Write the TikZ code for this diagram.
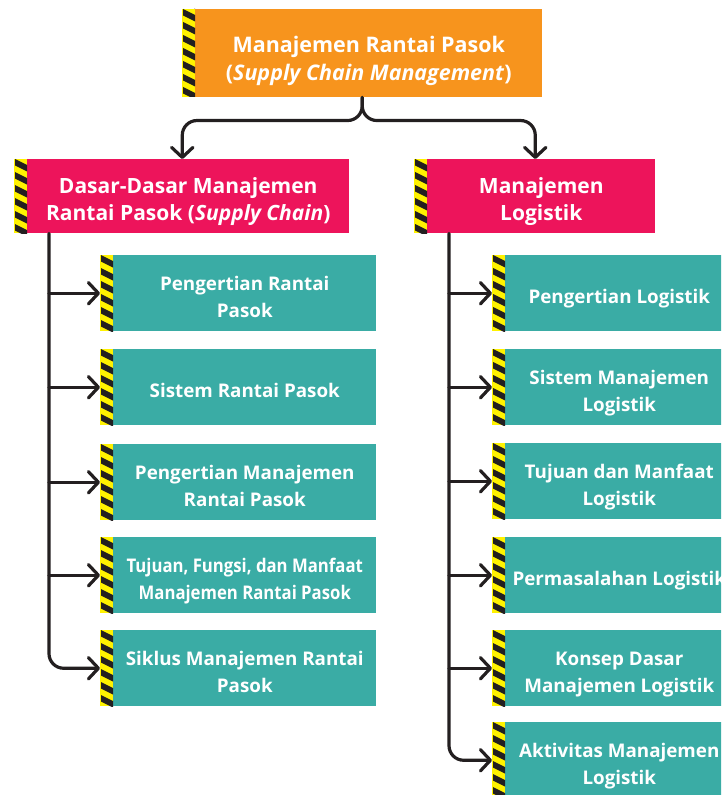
\documentclass[tikz,border=0pt]{standalone}
\usepackage{fontspec}
\setmainfont{Open Sans}
\newfontfamily\condfont[FakeStretch=0.89]{Open Sans}
\usetikzlibrary{arrows.meta}

\definecolor{hzorange}{HTML}{F7941D}
\definecolor{hzpink}{HTML}{ED145B}
\definecolor{hzteal}{HTML}{3AACA5}
\definecolor{hzyellow}{HTML}{FFF200}
\definecolor{hzblack}{HTML}{231F20}

% yellow/black band left of a box: node name, height in px
\newcommand{\hazard}[2]{%
  \begin{scope}[shift={(#1.north west)}]
    \fill[hzyellow] (-13,0) rectangle (0,#2);
    \clip (-12,0) rectangle (0,#2);
    \foreach \k in {-1,...,7}
      \fill[hzblack] (-12,{\k*13}) -- ++(12,6) -- ++(0,6.5) -- ++(-12,-6) -- cycle;
  \end{scope}}
% pushes the lines of a box a little down
\newcommand{\liftsize}{1em}
\newcommand{\lift}{\rule{0pt}{\liftsize}}

\begin{document}
\begin{tikzpicture}[x=0.75pt, y=-0.75pt,
  >={Straight Barb[length=7.5pt, width=16pt, round]},
  link/.style={draw=hzblack, line width=2.4pt, line cap=round},
  box/.style={anchor=north west, inner sep=0pt, text=white, align=center, text depth=0pt},
  topbox/.style={box, fill=hzorange, minimum width=260.25pt, minimum height=66pt,
    font=\fontsize{16.1}{21.2}\selectfont\bfseries\renewcommand{\liftsize}{1.22em}},
  headbox/.style={box, fill=hzpink, minimum height=55.5pt,
    font=\fontsize{15.75}{20}\selectfont\bfseries\renewcommand{\liftsize}{1.05em}},
  subbox/.style={box, fill=hzteal, minimum height=57pt,
    font=\fontsize{14.1}{19.7}\selectfont\bfseries\renewcommand{\liftsize}{1.13em}}]
\useasboundingbox (0,0) rectangle (721,795);
\clip (0,0) rectangle (721,795);
%
\node[topbox] (scm) at (195,9) {\lift Manajemen Rantai Pasok\\(\textit{Supply Chain Management})};
\node[headbox, minimum width=241.5pt] (dasar) at (27,159) {\lift Dasar-Dasar Manajemen\\Rantai Pasok (\textit{Supply Chain})};
\node[headbox, minimum width=171pt] (logistik) at (427,159) {\lift Manajemen\\Logistik};
%
\node[subbox, minimum width=197.25pt] (l1) at (113,255) {\lift Pengertian Rantai\\Pasok};
\node[subbox, minimum width=197.25pt] (l2) at (113,349) {\lift Sistem Rantai Pasok};
\node[subbox, minimum width=197.25pt] (l3) at (113,444) {\lift Pengertian Manajemen\\Rantai Pasok};
\node[subbox, minimum width=197.25pt] (l4) at (113,537) {\condfont\lift Tujuan, Fungsi, dan Manfaat\\\condfont Manajemen Rantai Pasok};
\node[subbox, minimum width=197.25pt] (l5) at (113,630) {\lift Siklus Manajemen Rantai\\Pasok};
%
\node[subbox, minimum width=171pt] (r1) at (505,255) {\lift Pengertian Logistik};
\node[subbox, minimum width=171pt] (r2) at (505,349) {\lift Sistem Manajemen\\Logistik};
\node[subbox, minimum width=171pt] (r3) at (505,443) {\lift Tujuan dan Manfaat\\Logistik};
\node[subbox, minimum width=171pt] (r4) at (505,537) {\lift Permasalahan Logistik};
\node[subbox, minimum width=171pt] (r5) at (505,630) {\lift Konsep Dasar\\Manajemen Logistik};
\node[subbox, minimum width=171pt] (r6) at (505,722) {\lift Aktivitas Manajemen\\Logistik};
%
\hazard{scm}{88}
\hazard{dasar}{74}
\hazard{logistik}{74}
\foreach \n in {l1,l2,l3,l4,l5,r1,r2,r3,r4,r5,r6}
  {\hazard{\n}{76}}
%
\draw[link, ->, rounded corners=11pt] ([xshift=-4.9pt]scm.south) -- ++(0,23) -| ([xshift=-4.5pt]dasar.north);
\draw[link, ->, rounded corners=11pt] ([xshift=-4.9pt]scm.south) -- ++(0,23) -| ([xshift=-4.5pt]logistik.north);
%
\coordinate (ltrunk) at ([xshift=16.5pt]dasar.south west);
\coordinate (rtrunk) at ([xshift=16.5pt]logistik.south west);
\foreach \n in {l1,l2,l3,l4}
  \draw[link, ->] (ltrunk |- \n.west) -- ([xshift=-9.75pt]\n.west);
\draw[link, ->, rounded corners=11pt] (ltrunk) |- ([xshift=-9.75pt]l5.west);
\foreach \n in {r1,r2,r3,r4,r5}
  \draw[link, ->] (rtrunk |- \n.west) -- ([xshift=-9.75pt]\n.west);
\draw[link, ->, rounded corners=11pt] (rtrunk) |- ([xshift=-9.75pt]r6.west);
\end{tikzpicture}
\end{document}
